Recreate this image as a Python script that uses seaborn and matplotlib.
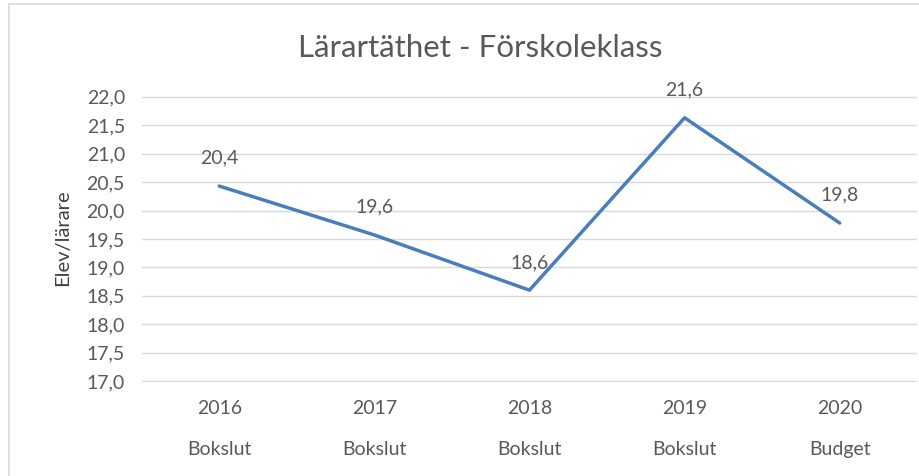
import numpy as np
import pandas as pd
import seaborn as sns
import matplotlib.pyplot as plt
from matplotlib.ticker import FuncFormatter, MultipleLocator
from matplotlib.patches import Rectangle

years = ["2016", "2017", "2018", "2019", "2020"]
kinds = ["Bokslut", "Bokslut", "Bokslut", "Bokslut", "Budget"]
values = [20.43, 19.57, 18.6, 21.63, 19.78]

df = pd.DataFrame({"pos": np.arange(len(years)), "value": values})

sns.set_style("white")
plt.rcParams['font.family'] = ['Lato', 'DejaVu Sans']
text_color = '#595959'

fig = plt.figure(figsize=(9.2, 4.76), dpi=100)
ax = fig.add_axes([0.154, 0.198, 0.843, 0.6])

# chart border (picture is cropped on right/bottom)
fig.patches.append(Rectangle((9 / 920, -0.1), 1.2, 1.1 - 4 / 476,
                             transform=fig.transFigure, fill=False,
                             edgecolor='#d9d9d9', lw=1.2))

sns.lineplot(data=df, x="pos", y="value", ax=ax, color='#4a7ebb', lw=2.5)

for x, v in zip(df["pos"], df["value"]):
    ax.annotate(f"{v:.1f}".replace('.', ','), (x, v), xytext=(0, 20),
                textcoords='offset points', ha='center', va='center',
                fontsize=14, color=text_color)

ax.set_ylim(16.99, 22.01)
ax.set_xlim(-0.5, len(years) - 0.5)
ax.yaxis.set_major_locator(MultipleLocator(0.5))
ax.yaxis.set_major_formatter(FuncFormatter(lambda v, p: f"{v:.1f}".replace('.', ',')))
ax.grid(axis='y', color='#d9d9d9', lw=1)
ax.set_axisbelow(True)
for s in ax.spines.values():
    s.set_visible(False)

ax.set_xticks(df["pos"])
ax.set_xticklabels([f"{y}\n\n{k}" for y, k in zip(years, kinds)],
                   linespacing=1.25, fontsize=14, color=text_color)
ax.tick_params(axis='x', length=0, pad=13)
ax.tick_params(axis='y', length=0, labelsize=14, labelcolor=text_color, pad=12)

ax.set_xlabel("")
ax.set_ylabel("")
fig.text(63 / 920, 0.5, "Elev/lärare", rotation=90, ha='center', va='center',
         fontsize=14.5, color='#404040')
fig.text(0.522, 0.9, "Lärartäthet - Förskoleklass", ha='center', va='center',
         fontsize=22.5, color=text_color)

fig.savefig("out.png", dpi=100)
